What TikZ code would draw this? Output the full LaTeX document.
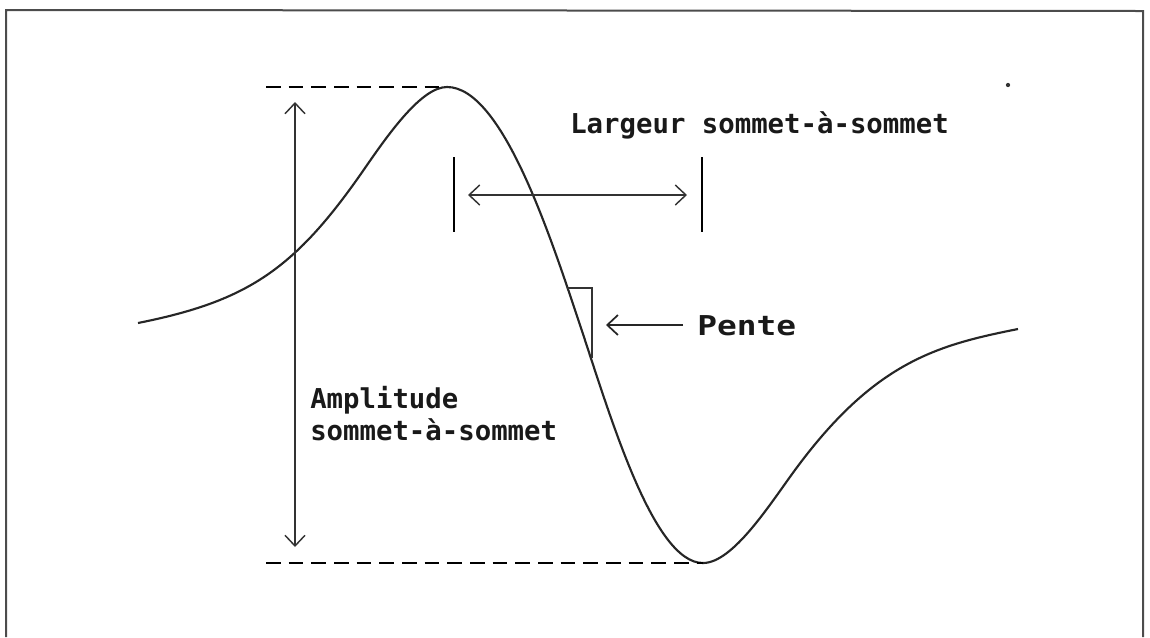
\documentclass[tikz,border=0pt]{standalone}
\usepackage{fontspec}
\usetikzlibrary{arrows.meta}
\newfontfamily\plotfont{DejaVu Sans Mono}
\begin{document}
\begin{tikzpicture}[x=0.75pt,y=-0.75pt,
  frame/.style={draw=black!70,line width=1.5pt},
  wave/.style={draw=black!85,line width=1.6pt},
  guide/.style={draw=black,line width=2.2pt,dash pattern=on 11pt off 6pt},
  dimarrow/.style={draw=black!80,line width=1.1pt,{Straight Barb[length=8pt,width=15pt]}-{Straight Barb[length=8pt,width=15pt]}},
  onearrow/.style={draw=black!85,line width=1.3pt,-{Straight Barb[length=8pt,width=15pt]}},
  bar/.style={draw=black,line width=1.6pt},
  tri/.style={draw=black!80,line width=1.1pt},
  lbl/.style={font=\plotfont\bfseries\fontsize{20.5pt}{24pt}\selectfont,inner sep=0pt,anchor=base west,text=black!90}]
\useasboundingbox (0,0) rectangle (1150,637);
% frame
\coordinate (fBL) at (6,637);
\coordinate (fTL) at (6,10);
\coordinate (fTR) at (1143,11);
\coordinate (fBR) at (1143,637);
\draw[frame] (fBL) -- (fTL) -- (fTR) -- (fBR);
% key points of the waveform
\coordinate (start) at (138,323);
\coordinate (inflA) at (365,168);
\coordinate (peak) at (447,87);
\coordinate (inflB) at (580,325);
\coordinate (trough) at (703,563);
\coordinate (inflC) at (795,470);
\coordinate (finish) at (1018,329);
\draw[wave] (start) .. controls (248,301) and (295,269.5) .. (inflA)
  .. controls (390,131.75) and (422,87) .. (peak)
  .. controls (502,87) and (550,235) .. (inflB)
  .. controls (610,415) and (653,563) .. (trough)
  .. controls (733,563) and (770,504) .. (inflC)
  .. controls (875,361.2) and (938,345) .. (finish);
% guide lines
\coordinate (dashTL) at (266,87);
\coordinate (dashBL) at (266,563);
\draw[guide] (dashTL) -- (peak);
\draw[guide] (dashBL) -- (trough);
% amplitude arrow
\coordinate (ampTop) at (295,102);
\coordinate (ampBot) at (295,547);
\draw[dimarrow] (ampTop) -- (ampBot);
% width bars and arrow
\coordinate (barL1) at (454,157);
\coordinate (barL2) at (454,232);
\coordinate (barR1) at (702,157);
\coordinate (barR2) at (702,232);
\draw[bar] (barL1) -- (barL2);
\draw[bar] (barR1) -- (barR2);
\coordinate (wL) at (468,195);
\coordinate (wR) at (687,195);
\draw[dimarrow] (wL) -- (wR);
% slope triangle
\coordinate (t1) at (567,288);
\coordinate (t2) at (592,288);
\coordinate (t3) at (592,358);
\draw[tri] (t1) -- (t2) -- (t3);
% labels
\node[lbl] (largeur) at (570,133) {Largeur sommet-à-sommet};
\node[lbl,xscale=1.2,transform shape] (pente) at (697,335) {Pente};
\coordinate (pTail) at (683,325);
\coordinate (pTip) at (606,325);
\draw[onearrow] (pTail) -- (pTip);
\node[lbl] (ampl1) at (310,408) {Amplitude};
\node[lbl] (ampl2) at (310,440) {sommet-à-sommet};
% speck
\fill[black!80] (1008,85) circle (1.6pt);
\end{tikzpicture}
\end{document}
